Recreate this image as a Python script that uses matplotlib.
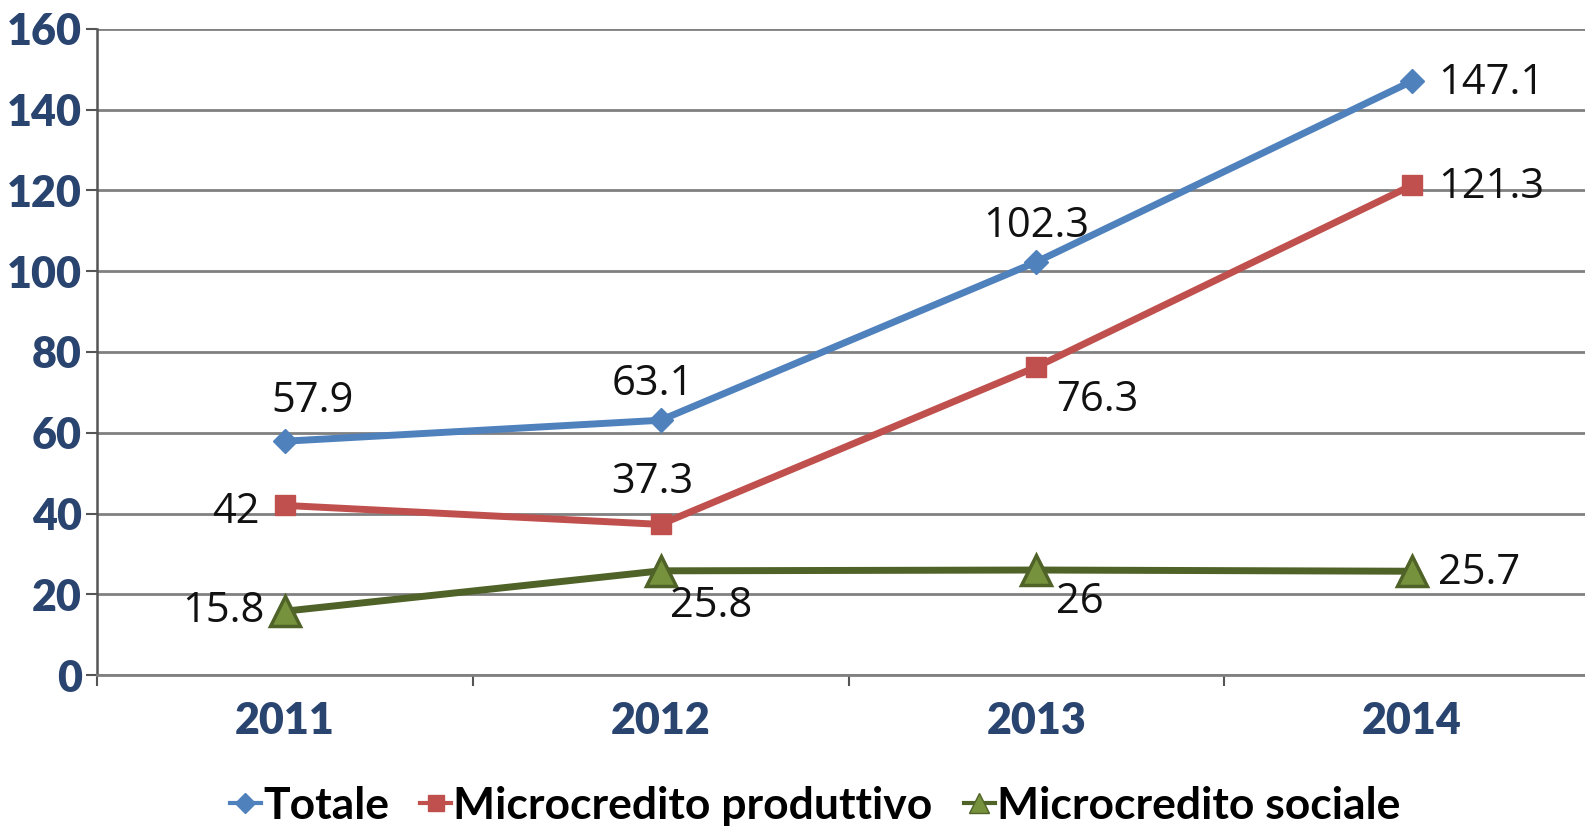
import matplotlib
matplotlib.use("Agg")
import matplotlib.pyplot as plt
from matplotlib.lines import Line2D

years = ["2011", "2012", "2013", "2014"]
totale = [57.9, 63.1, 102.3, 147.1]
produttivo = [42, 37.3, 76.3, 121.3]
sociale = [15.8, 25.8, 26, 25.7]
labels_tot = ["57.9", "63.1", "102.3", "147.1"]
labels_prod = ["42", "37.3", "76.3", "121.3"]
labels_soc = ["15.8", "25.8", "26", "25.7"]
yticks = [0, 20, 40, 60, 80, 100, 120, 140, 160]

fig = plt.figure(figsize=(15.85, 8.27), dpi=100)
ax = fig.add_axes([97/1585, 152/827, 1503/1585, 646/827])

x = list(range(len(years)))
c_tot, c_prod, c_soc = "#4F81BD", "#C0504D", "#4F6228"

ax.plot(x, totale, color=c_tot, lw=5, marker="D", ms=12, mfc=c_tot, mec=c_tot, zorder=3)
ax.plot(x, produttivo, color=c_prod, lw=5, marker="s", ms=15, mfc=c_prod, mec=c_prod, zorder=3)
ax.plot(x, sociale, color=c_soc, lw=5, marker="^", ms=21, mfc="#76923C", mec=c_soc, mew=2.5, zorder=3)

lab_font = dict(fontsize=30, family="Open Sans", color="#111111", zorder=4)
# offsets in pixels (dx, dy) and alignment
offs_tot = [(28, 40, "center"), (-8, 36, "center"), (0, 36, "center"), (26, -2, "left")]
offs_prod = [(-25, -7, "right"), (-8, 42, "center"), (61, -33, "center"), (26, -2, "left")]
offs_soc = [(-20, 0, "right"), (51, -35, "center"), (43, -32, "center"), (26, -2, "left")]
for vals, labs, offs in [(totale, labels_tot, offs_tot), (produttivo, labels_prod, offs_prod), (sociale, labels_soc, offs_soc)]:
    for xi, v, l, (dx, dy, ha) in zip(x, vals, labs, offs):
        ax.annotate(l, (xi, v), xytext=(dx * 0.72, dy * 0.72), textcoords="offset points",
                    ha=ha, va="center", **lab_font)

ax.set_xlim(-0.5, 3.5)
ax.set_ylim(0, 160)
ax.set_yticks(yticks)
ax.set_yticklabels([str(t) for t in yticks])
ax.set_xticks(x)
ax.set_xticklabels(years)
ax.set_xticks([-0.5, 0.5, 1.5, 2.5, 3.5], minor=True)
ax.tick_params(axis="x", which="major", length=0, pad=19)
ax.tick_params(axis="x", which="minor", length=8, width=1.5, color="#555555", direction="out")
ax.tick_params(axis="y", length=8, width=1.5, color="#555555", direction="out", pad=3)
for lab in ax.get_xticklabels() + ax.get_yticklabels():
    lab.set_fontfamily("Lato")
    lab.set_fontweight("heavy")
    lab.set_fontsize(31)
    lab.set_color("#2A4470")

ax.grid(axis="y", color="#808080", lw=2, zorder=0)
ax.set_axisbelow(True)
for s in ["top", "right"]:
    ax.spines[s].set_visible(False)
ax.spines["left"].set_color("#555555")
ax.spines["left"].set_linewidth(1.8)
ax.spines["bottom"].set_color("#808080")
ax.spines["bottom"].set_linewidth(2)

handles = [
    Line2D([], [], color=c_tot, lw=3, marker="D", ms=10, mfc=c_tot, mec=c_tot),
    Line2D([], [], color=c_prod, lw=3, marker="s", ms=11, mfc=c_prod, mec=c_prod),
    Line2D([], [], color=c_soc, lw=3, marker="^", ms=14, mfc="#76923C", mec=c_soc),
]
fig.legend(handles, ["Totale", "Microcredito produttivo", "Microcredito sociale"],
           loc="center", bbox_to_anchor=(815/1585, 1 - 806/827), ncol=3, frameon=False,
           handlelength=0.7, handletextpad=0.05, columnspacing=0.7,
           prop=dict(family="Lato", weight="bold", size=32))

fig.savefig("out.png", dpi=100)
